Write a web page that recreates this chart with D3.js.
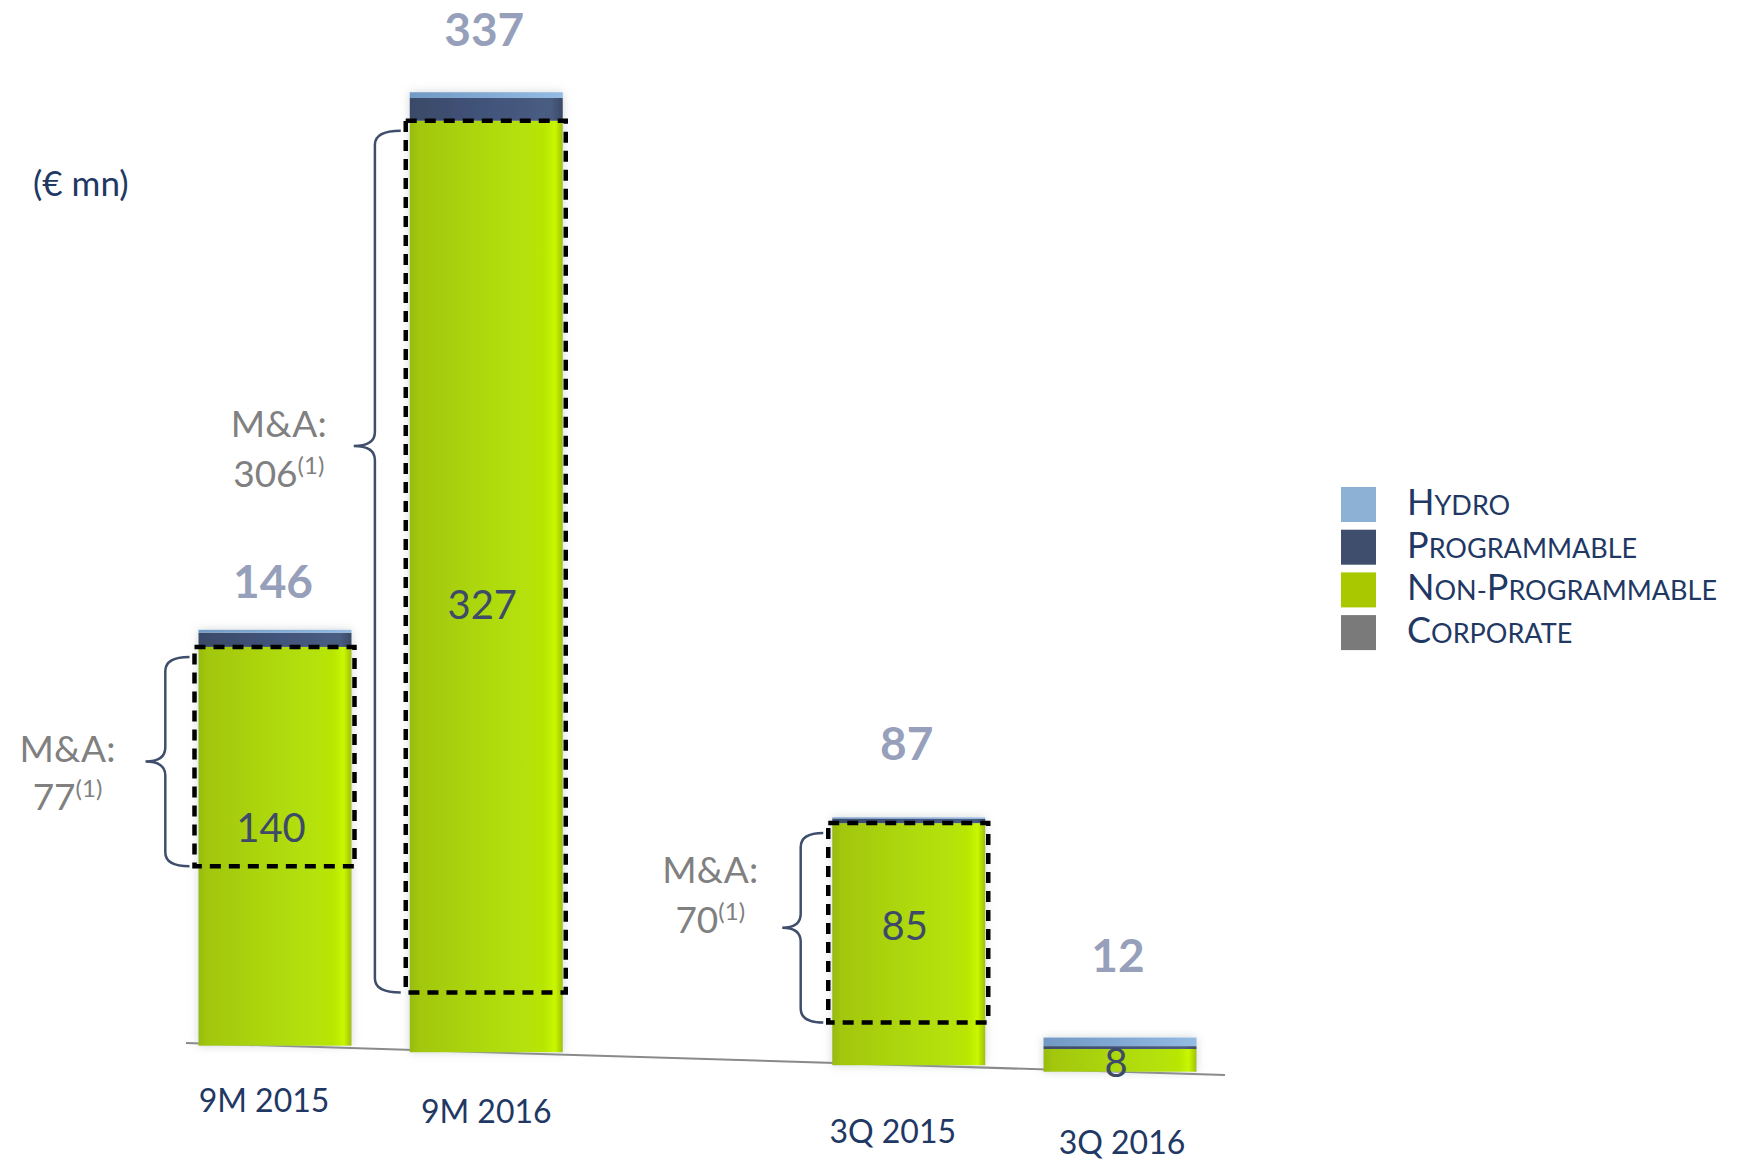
<!DOCTYPE html>
<html><head><meta charset="utf-8">
<script src="https://cdn.jsdelivr.net/npm/d3@7"></script>
<style>html,body{margin:0;padding:0;background:#fff;}svg{display:block;font-family:Lato,"Open Sans",sans-serif;}</style>
</head><body>
<script>
const categories = ["9M 2015", "9M 2016", "3Q 2015", "3Q 2016"];
const hydro = [1, 2, 0.5, 3];
const programmable = [5, 8, 1.5, 1];
const nonProgrammable = [140, 327, 85, 8];
const corporate = [0, 0, 0, 0];
const totals = [146, 337, 87, 12];
const mnaValues = [77, 306, 70, null];
const seriesNames = ["Hydro", "Programmable", "Non-Programmable", "Corporate"];
const seriesColors = ["#8db1d4", "#3e4e6c", "#aac800", "#7a7a7a"];

const W = 1738, H = 1161;
const svg = d3.select("body").append("svg").attr("width", W).attr("height", H);
const defs = svg.append("defs");

const g1 = defs.append("linearGradient").attr("id", "gGreen").attr("x1", "0").attr("x2", "1").attr("y1", "0").attr("y2", "0");
[[0, "#97bb0b"], [0.06, "#a2c70a"], [0.5, "#aed909"], [0.88, "#b8e606"], [0.95, "#c9f700"], [1, "#9fbf0a"]]
  .forEach(([o, c]) => g1.append("stop").attr("offset", o).attr("stop-color", c));
const g2 = defs.append("linearGradient").attr("id", "gProg").attr("x1", "0").attr("x2", "1").attr("y1", "0").attr("y2", "0");
[[0, "#3a4a68"], [0.5, "#42537a"], [0.92, "#4a5d82"], [1, "#3a4a66"]]
  .forEach(([o, c]) => g2.append("stop").attr("offset", o).attr("stop-color", c));
const g3 = defs.append("linearGradient").attr("id", "gHydro").attr("x1", "0").attr("x2", "1").attr("y1", "0").attr("y2", "0");
[[0, "#7199c4"], [0.5, "#82a9d3"], [1, "#94bbe2"]]
  .forEach(([o, c]) => g3.append("stop").attr("offset", o).attr("stop-color", c));
const f = defs.append("filter").attr("id", "shadow").attr("x", "-20%").attr("y", "-20%").attr("width", "140%").attr("height", "140%");
f.append("feDropShadow").attr("dx", 0).attr("dy", 0).attr("stdDeviation", 5).attr("flood-color", "#9aa0aa").attr("flood-opacity", 0.45);

// scales
const slots = ["9M 2015", "9M 2016", "_gap", "3Q 2015", "3Q 2016"];
const x = d3.scalePoint().domain(slots).range([275, 1120]);
const barW = 153;
const h = d3.scaleLinear().domain([0, 337]).range([0, 960]);
const base = d3.scaleLinear().domain([186, 1225]).range([1043, 1075]);
const labelLine = d3.scaleLinear().domain([265, 1125]).range([1101, 1143]);

// layout tweaks (pixel offsets, not data)
const totalGap = [32, 46, 57, 66];
const innerDy = [-19, 18, -19, 2];
const catDx = [-11, 0, -16, 2];

// baseline
svg.append("line").attr("x1", 186).attr("y1", base(186)).attr("x2", 1225).attr("y2", base(1225))
  .attr("stroke", "#8a8a8a").attr("stroke-width", 2);

const data = categories.map((c, i) => ({
  cat: c, i, cx: x(c),
  segs: [
    { key: "np", v: nonProgrammable[i], fill: "url(#gGreen)" },
    { key: "prog", v: programmable[i], fill: "url(#gProg)" },
    { key: "hydro", v: hydro[i], fill: "url(#gHydro)" },
    { key: "corp", v: corporate[i], fill: seriesColors[3] }
  ]
}));

const bars = svg.append("g").selectAll("g").data(data).join("g").attr("filter", "url(#shadow)");
bars.each(function (d) {
  const gb = d3.select(this);
  const b = base(d.cx);
  let cum = 0;
  d.segs.forEach(s => {
    if (s.v <= 0) return;
    const y0 = b - h(cum), y1 = b - h(cum + s.v);
    gb.append("rect").attr("x", d.cx - barW / 2).attr("width", barW)
      .attr("y", y1).attr("height", y0 - y1).attr("fill", s.fill);
    cum += s.v;
  });
});

// dashed M&A boxes + braces + labels
const braceLayout = [
  { w: 44, labelDx: -78, tipFrac: 0.5, l1: -13, l2: 35 },
  { w: 47, labelDx: -75, tipFrac: 0.366, l1: -22, l2: 28 },
  { w: 41, labelDx: -72, tipFrac: 0.5, l1: -58, l2: -8 }
];
function bracePath(xr, yt, yb, ytip, w) {
  const xm = xr - w * 0.55, xt = xr - w, r = 14;
  return `M${xr},${yt} Q${xm},${yt} ${xm},${yt + r} L${xm},${ytip - r} Q${xm},${ytip} ${xt},${ytip}` +
    ` Q${xm},${ytip} ${xm},${ytip + r} L${xm},${yb - r} Q${xm},${yb} ${xr},${yb}`;
}
data.forEach((d, i) => {
  if (mnaValues[i] == null) return;
  const b = base(d.cx);
  const top = b - h(nonProgrammable[i]);
  const bot = b - h(nonProgrammable[i] - mnaValues[i]);
  const x0 = d.cx - barW / 2 - 4, x1 = d.cx + barW / 2 + 3;
  svg.append("rect").attr("x", x0).attr("y", top).attr("width", x1 - x0).attr("height", bot - top)
    .attr("fill", "none").attr("stroke", "#000").attr("stroke-width", 4.5).attr("stroke-dasharray", "11,8");
  const L = braceLayout[i];
  const xr = x0 - 5, yt = top + 10, yb = bot;
  const ytip = yt + (yb - yt) * L.tipFrac;
  svg.append("path").attr("d", bracePath(xr, yt, yb, ytip, L.w)).attr("fill", "none")
    .attr("stroke", "#3e4e6c").attr("stroke-width", 2.5);
  const lx = xr - L.w + L.labelDx;
  svg.append("text").attr("x", lx).attr("y", ytip + L.l1).attr("dy", "0.36em").attr("text-anchor", "middle")
    .attr("font-size", 37).attr("fill", "#808080").text("M&A:");
  const t2 = svg.append("text").attr("x", lx).attr("y", ytip + L.l2).attr("dy", "0.36em").attr("text-anchor", "middle")
    .attr("font-size", 37).attr("fill", "#808080");
  t2.append("tspan").text(mnaValues[i]);
  t2.append("tspan").attr("font-size", 24).attr("dy", "-0.55em").text("(1)");
});

// inner labels
data.forEach((d, i) => {
  const b = base(d.cx);
  const mid = b - h(nonProgrammable[i]) / 2;
  svg.append("text").attr("x", d.cx - 4).attr("y", mid + innerDy[i]).attr("dy", "0.36em").attr("text-anchor", "middle")
    .attr("font-size", 40).attr("fill", "#3d4a68").text(nonProgrammable[i]);
});

// totals
data.forEach((d, i) => {
  const b = base(d.cx);
  svg.append("text").attr("x", d.cx - 2).attr("y", b - h(totals[i]) - totalGap[i]).attr("text-anchor", "middle")
    .attr("font-size", 46).attr("font-weight", "bold").attr("fill", "#97a0ba").text(totals[i]);
});

// category labels
data.forEach((d, i) => {
  const lx = d.cx + catDx[i];
  svg.append("text").attr("x", lx).attr("y", labelLine(lx)).attr("dy", "0.36em").attr("text-anchor", "middle")
    .attr("font-size", 32).attr("fill", "#1f3864").text(d.cat);
});

// unit
svg.append("text").attr("x", 33).attr("y", 196).attr("font-size", 35).attr("fill", "#1f3864").text("(€ mn)");

// legend
const lg = svg.append("g");
seriesNames.forEach((name, i) => {
  const y0 = 487 + i * 42.7;
  lg.append("rect").attr("x", 1341).attr("y", y0).attr("width", 35).attr("height", 35).attr("fill", seriesColors[i]);
  const t = lg.append("text").attr("x", 1407).attr("y", y0 + 28).attr("fill", "#1f3864");
  const runs = [];
  for (const ch of name) {
    const big = /[A-Z]/.test(ch);
    const u = ch.toUpperCase();
    if (runs.length && runs[runs.length - 1].big === big) runs[runs.length - 1].t += u;
    else runs.push({ t: u, big });
  }
  runs.forEach(r => t.append("tspan").attr("font-size", r.big ? 36 : 27).text(r.t));
});
</script>
</body></html>
